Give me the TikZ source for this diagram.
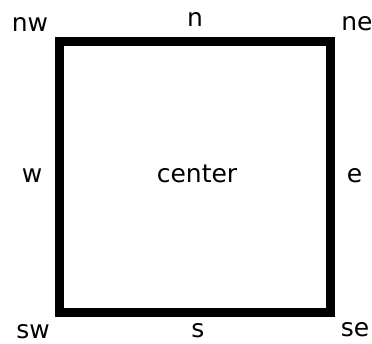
\documentclass[tikz,border=0pt]{standalone}
\usepackage{fontspec}
\setmainfont{DejaVu Sans}
\begin{document}
\begin{tikzpicture}[x=1pt,y=-1pt,
  lbl/.style={inner sep=0pt,font=\fontsize{25}{30}\selectfont}]
\useasboundingbox (0,0) rectangle (372,343);
\draw[line width=9pt] (59.5,41.5) rectangle (330,312.5);
\node[lbl] (nw) at (30,24) {nw};
\node[lbl] (n) at (195,19.5) {n};
\node[lbl] (ne) at (357,23.5) {ne};
\node[lbl] (w) at (32,175.5) {w};
\node[lbl] (c) at (197,174) {center};
\node[lbl] (e) at (354.5,175.5) {e};
\node[lbl] (sw) at (33,332) {sw};
\node[lbl] (s) at (198,330.5) {s};
\node[lbl] (se) at (355,330) {se};
\end{tikzpicture}
\end{document}
